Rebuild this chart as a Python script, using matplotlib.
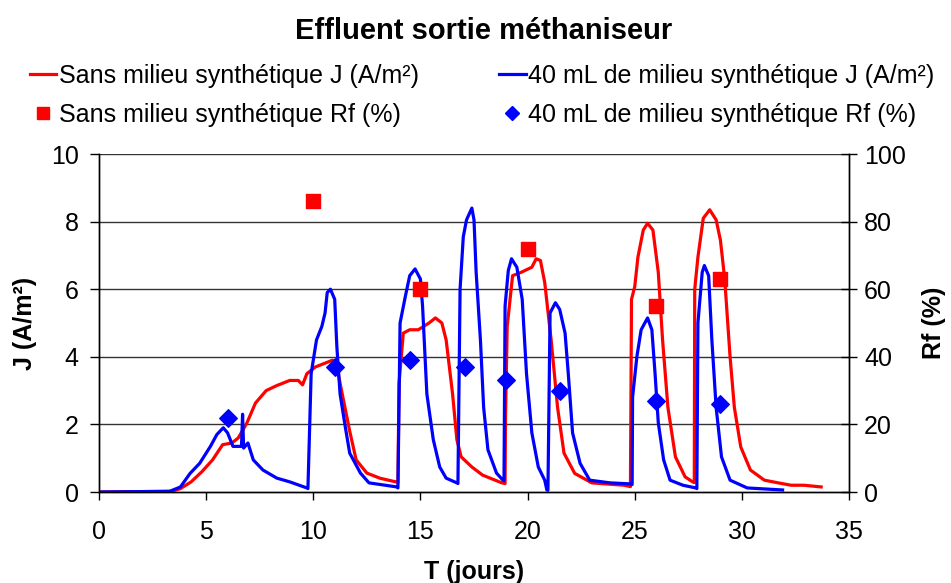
import matplotlib
matplotlib.use("Agg")
import matplotlib.pyplot as plt
from matplotlib.lines import Line2D

plt.rcParams['font.family'] = ['Liberation Sans', 'DejaVu Sans']

# courant J (A/m²) sans milieu synthétique
t_sans = [0, 3.4, 3.8, 4.3, 4.8, 5.3, 5.77, 6.2, 6.5, 6.9, 7.3, 7.8, 8.3, 8.9, 9.3, 9.5, 9.7,
          10.1, 10.5, 10.9, 11.1, 11.35, 11.7, 12.0, 12.5, 13.1, 13.85, 13.95, 14.0, 14.2, 14.5,
          14.9, 15.4, 15.7, 16.0, 16.2, 16.5, 16.7, 16.9, 17.4, 17.9, 18.8, 18.95, 18.97, 19.05,
          19.3, 19.7, 20.2, 20.4, 20.6, 20.8, 21.1, 21.4, 21.7, 22.2, 23.0, 24.5, 24.8, 24.85,
          25.0, 25.15, 25.4, 25.6, 25.85, 26.1, 26.3, 26.55, 26.9, 27.35, 27.7, 27.78, 27.8,
          27.95, 28.2, 28.5, 28.8, 29.0, 29.2, 29.45, 29.65, 29.95, 30.4, 31.05, 31.7, 32.3,
          32.9, 33.7]
j_sans = [0, 0.02, 0.1, 0.3, 0.6, 0.95, 1.4, 1.45, 1.6, 2.04, 2.63, 3.0, 3.15, 3.3, 3.3, 3.17, 3.5,
          3.7, 3.8, 3.9, 3.7, 2.9, 1.8, 0.95, 0.56, 0.41, 0.3, 0.28, 3.2, 4.7, 4.8,
          4.8, 5.0, 5.15, 5.0, 4.5, 2.9, 1.55, 1.04, 0.74, 0.5, 0.27, 0.25, 2.2, 4.9,
          6.4, 6.5, 6.65, 6.9, 6.85, 6.2, 4.5, 2.5, 1.15, 0.55, 0.27, 0.2, 0.16, 5.7,
          6.07, 6.95, 7.75, 7.95, 7.75, 6.5, 4.5, 2.5, 1.04, 0.45, 0.3, 0.28, 6.0,
          6.95, 8.1, 8.35, 8.05, 7.45, 6.3, 4.0, 2.5, 1.33, 0.65, 0.35, 0.27, 0.2,
          0.2, 0.15]

# courant J (A/m²) avec 40 mL de milieu synthétique
t_40 = [0, 3.3, 3.8, 4.25, 4.7, 5.2, 5.5, 5.8, 6.0, 6.25, 6.65, 6.7, 6.75, 6.95, 7.2, 7.65, 8.3,
        8.9, 9.7, 9.75, 9.9, 10.15, 10.4, 10.55, 10.65, 10.8, 11.0, 11.1, 11.25, 11.5, 11.7,
        12.2, 12.6, 13.9, 13.95, 14.05, 14.3, 14.5, 14.75, 15.0, 15.1, 15.3, 15.6, 15.9, 16.2,
        16.7, 16.75, 16.85, 17.0, 17.15, 17.4, 17.5, 17.6, 17.8, 17.95, 18.15, 18.55, 18.85,
        18.9, 18.95, 19.1, 19.25, 19.5, 19.75, 19.95, 20.2, 20.5, 20.8, 20.9, 20.95, 21.05,
        21.3, 21.5, 21.75, 21.9, 22.1, 22.45, 22.9, 23.85, 24.8, 24.88, 24.9, 25.1, 25.3,
        25.6, 25.8, 25.95, 26.1, 26.35, 26.65, 27.25, 27.85, 27.9, 27.95, 28.15, 28.25,
        28.45, 28.6, 28.8, 29.05, 29.45, 30.25, 31.9]
j_40 = [0, 0.02, 0.15, 0.55, 0.85, 1.35, 1.7, 1.9, 1.75, 1.35, 1.35, 2.3, 1.3, 1.45, 0.95, 0.65, 0.41,
        0.3, 0.12, 0.1, 3.5, 4.5, 4.9, 5.3, 5.9, 6.0, 5.7, 4.3, 2.9, 1.9, 1.15,
        0.56, 0.27, 0.15, 0.12, 5.0, 5.8, 6.4, 6.6, 6.3, 5.5, 2.9, 1.55, 0.74, 0.41,
        0.27, 0.25, 6.0, 7.55, 8.05, 8.4, 8.05, 6.5, 4.5, 2.5, 1.25, 0.56, 0.35,
        0.33, 5.5, 6.55, 6.9, 6.65, 5.7, 3.5, 1.75, 0.74, 0.35, 0.06, 0.05, 5.3,
        5.6, 5.4, 4.7, 3.5, 1.75, 0.85, 0.35, 0.27, 0.24, 0.22, 2.8, 4.0, 4.8,
        5.15, 4.8, 3.5, 2.05, 0.95, 0.35, 0.2, 0.12, 0.1, 5.0, 6.5, 6.7,
        6.4, 4.5, 2.5, 1.04, 0.35, 0.12, 0.06]

# rendement faradique Rf (%)
t_rf_sans = [10.0, 15.0, 20.0, 26.0, 29.0]
rf_sans = [86, 60, 72, 55, 63]
t_rf_40 = [6.0, 11.0, 14.5, 17.1, 19.0, 21.5, 26.0, 29.0]
rf_40 = [22, 37, 39, 37, 33, 30, 27, 26]

lab_j_sans = "Sans milieu synthétique J (A/m²)"
lab_rf_sans = "Sans milieu synthétique Rf (%)"
lab_j_40 = "40 mL de milieu synthétique J (A/m²)"
lab_rf_40 = "40 mL de milieu synthétique Rf (%)"

fig = plt.figure(figsize=(9.51, 5.83), dpi=100)
ax = fig.add_axes([99/951, 1-492/583, 750/951, 338/583])
ax2 = ax.twinx()

ax.plot(t_sans, j_sans, color='#ff0000', lw=2.3, zorder=3)
ax.plot(t_40, j_40, color='#0000ff', lw=2.3, zorder=4)
ax2.scatter(t_rf_sans, rf_sans, marker='s', s=110, color='#ff0000', zorder=5)
ax2.scatter(t_rf_40, rf_40, marker='D', s=80, color='#0000ff', zorder=5)

ax.set_xlim(0, 35)
ax.set_ylim(0, 10)
ax2.set_ylim(0, 100)
ax.set_xticks(range(0, 36, 5))
ax.set_yticks(range(0, 11, 2))
ax2.set_yticks(range(0, 101, 20))
for y in range(2, 11, 2):
    ax.axhline(y, color='#333333', lw=1.0, zorder=1)

for a in (ax, ax2):
    a.spines['top'].set_visible(False)
    for s in a.spines.values():
        s.set_linewidth(1.0)
ax.tick_params(axis='y', direction='out', length=6.5, width=1, labelsize=18, pad=8)
ax.tick_params(axis='x', direction='out', length=6, width=1, labelsize=18, pad=14)
ax2.tick_params(axis='y', direction='inout', length=11.5, width=1, labelsize=18, pad=5)

ax.set_xlabel("T (jours)", fontsize=18, fontweight='bold', labelpad=12)
ax.set_ylabel("J (A/m²)", fontsize=18, fontweight='bold', labelpad=10)
ax2.set_ylabel("Rf (%)", fontsize=18, fontweight='bold', labelpad=12)

fig.suptitle("Effluent sortie méthaniseur", fontsize=21, fontweight='bold', x=0.509, y=0.97)

handles = [Line2D([], [], color='#ff0000', lw=2.3),
           Line2D([], [], color='#ff0000', marker='s', ls='none', ms=8),
           Line2D([], [], color='#0000ff', lw=2.3),
           Line2D([], [], color='#0000ff', marker='D', ls='none', ms=7)]
labels = [lab_j_sans, lab_rf_sans, lab_j_40, lab_rf_40]
fig.legend(handles, labels, loc='upper left', bbox_to_anchor=(30/951, 1-64/583), ncol=2,
           frameon=False, fontsize=18, handlelength=1.05, handletextpad=0.12,
           columnspacing=3.2, labelspacing=0.6, borderaxespad=0, borderpad=0)

fig.savefig("out.png", dpi=100)
